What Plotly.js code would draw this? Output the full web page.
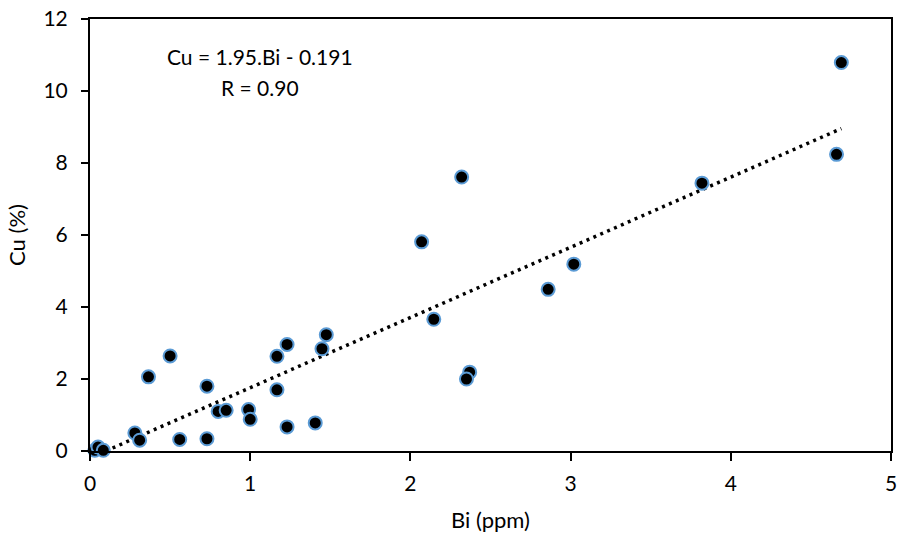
<!DOCTYPE html>
<html>
<head>
<meta charset="utf-8">
<script src="https://cdn.plot.ly/plotly-3.0.1.min.js"></script>
<style>html,body{margin:0;padding:0;background:#fff;}#chart{width:901px;height:542px;}</style>
</head>
<body>
<div id="chart"></div>
<script>
// Bi (ppm) and Cu (%) sample values
const biValues = [0.03, 0.05, 0.083, 0.28, 0.31, 0.365, 0.50, 0.56, 0.73, 0.73, 0.80, 0.85, 0.99, 1.00, 1.167, 1.167, 1.23, 1.23, 1.475, 1.448, 1.406, 2.146, 2.37, 2.35, 2.32, 2.07, 3.02, 2.86, 4.69, 4.66, 3.82];
const cuValues = [0.02, 0.11, 0.02, 0.50, 0.30, 2.06, 2.64, 0.32, 0.34, 1.80, 1.10, 1.13, 1.15, 0.88, 1.70, 2.63, 2.96, 0.67, 3.23, 2.84, 0.78, 3.66, 2.19, 2.00, 7.61, 5.81, 5.19, 4.49, 10.79, 8.24, 7.44];

// Regression line: Cu = 1.95*Bi - 0.191
const slope = 1.95;
const intercept = -0.191;
const trendStartX = -intercept / slope;
const trendEndX = Math.max(...biValues);
const trendX = [trendStartX, trendEndX];
const trendY = trendX.map(x => slope * x + intercept);

const xTickVals = [0, 1, 2, 3, 4, 5];
const yTickVals = [0, 2, 4, 6, 8, 10, 12];

const annotationLines = ["Cu = 1.95.Bi - 0.191", "R = 0.90"];

const font = "Lato, 'Open Sans', sans-serif";

const traces = [
  {
    x: trendX, y: trendY, type: 'scatter', mode: 'lines',
    line: {color: '#000', width: 3.5, dash: '3px,4.5px'},
    hoverinfo: 'skip', showlegend: false
  },
  {
    x: biValues, y: cuValues, type: 'scatter', mode: 'markers',
    marker: {size: 13, color: '#000', line: {color: '#5B9BD5', width: 2}},
    showlegend: false, cliponaxis: false
  }
];

const layout = {
  width: 901, height: 542,
  margin: {l: 90, r: 10, t: 19, b: 91, autoexpand: false},
  paper_bgcolor: '#fff', plot_bgcolor: '#fff',
  font: {family: font, size: 21, color: '#000'},
  showlegend: false,
  xaxis: {
    range: [0, 5], tickvals: xTickVals, ticktext: xTickVals.map(String),
    showgrid: false, zeroline: false,
    showline: true, linecolor: '#000', linewidth: 2, mirror: true,
    ticks: 'outside', ticklen: 8, tickwidth: 2, tickcolor: '#000',
    ticklabelstandoff: 5,
    tickfont: {family: font, size: 21, color: '#000'},
    title: {text: 'Bi (ppm)', font: {family: font, size: 22, color: '#000'}, standoff: 18},
    automargin: false
  },
  yaxis: {
    range: [0, 12], tickvals: yTickVals, ticktext: yTickVals.map(String),
    showgrid: false, zeroline: false,
    showline: true, linecolor: '#000', linewidth: 2, mirror: true,
    ticks: 'outside', ticklen: 7, tickwidth: 2, tickcolor: '#000',
    ticklabelstandoff: 9,
    tickfont: {family: font, size: 21, color: '#000'},
    title: {text: 'Cu (%)', font: {family: font, size: 22, color: '#000'}, standoff: 12},
    automargin: false
  },
  annotations: [
    {xref: 'paper', yref: 'paper', x: (260 - 90) / 801, y: (451 - 57) / 432,
     text: annotationLines[0], showarrow: false, xanchor: 'center', yanchor: 'middle',
     font: {family: font, size: 21, color: '#000'}},
    {xref: 'paper', yref: 'paper', x: (260 - 90) / 801, y: (451 - 87) / 432,
     text: annotationLines[1], showarrow: false, xanchor: 'center', yanchor: 'middle',
     font: {family: font, size: 21, color: '#000'}}
  ]
};

Plotly.newPlot('chart', traces, layout, {displayModeBar: false, staticPlot: true});
</script>
</body>
</html>
